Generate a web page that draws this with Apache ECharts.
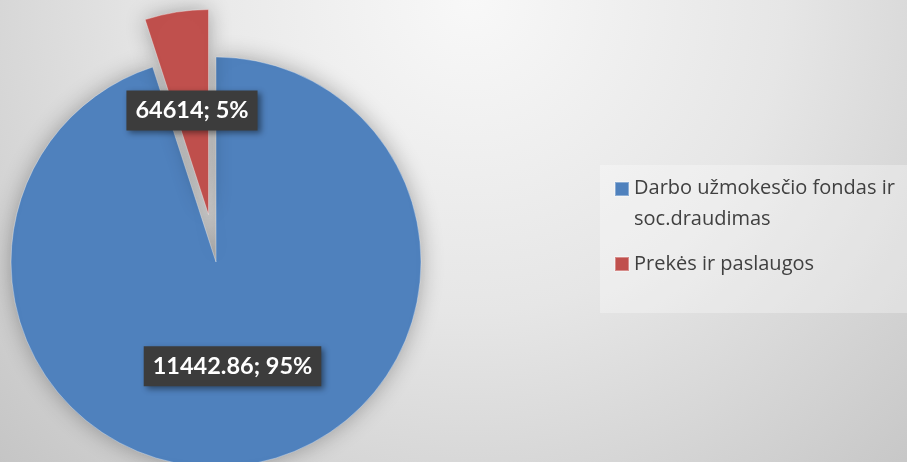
<!DOCTYPE html>
<html>
<head>
<meta charset="utf-8">
<script src="https://cdn.jsdelivr.net/npm/echarts@6/dist/echarts.min.js"></script>
<style>
html,body{margin:0;padding:0;}
#chart{width:907px;height:462px;}
</style>
</head>
<body>
<div id="chart"></div>
<script>
// Data
var categories = ['Darbo užmokesčio fondas ir soc.draudimas', 'Prekės ir paslaugos'];
var shares = [95, 5];                    // slice size (percent)
var labelValues = ['11442.86', '64614']; // values as labeled in the source
var colors = ['#4F81BD', '#C0504D'];

var chart = echarts.init(document.getElementById('chart'), null, {renderer: 'canvas'});

var seriesData = categories.map(function (c, i) {
  return {
    name: c,
    value: shares[i],
    selected: i === 1,
    itemStyle: {color: colors[i]}
  };
});

// legend icons: square aligned with first text line
var iconTop = 'path://M0,0h14v14h-14z M14,44';
var iconMid = 'path://M0,15h14v14h-14z M0,0 M14,44';

var option = {
  backgroundColor: {
    type: 'radial', x: 0.52, y: 0.0, r: 1.5,
    colorStops: [
      {offset: 0, color: '#f8f8f8'},
      {offset: 0.45, color: '#e6e6e6'},
      {offset: 1, color: '#c2c2c2'}
    ]
  },
  animation: false,
  legend: {
    orient: 'vertical',
    left: 600,
    top: 165,
    itemWidth: 14,
    itemHeight: 44,
    itemGap: 6,
    padding: [8, 60, 26, 14],
    backgroundColor: 'rgba(255,255,255,0.3)',
    selectedMode: false,
    data: [
      {name: categories[0], icon: iconTop},
      {name: categories[1], icon: iconMid}
    ],
    formatter: function (name) {
      return name.replace(' soc.', '\nsoc.');
    },
    textStyle: {
      fontFamily: 'Open Sans',
      fontSize: 20,
      color: '#404040',
      lineHeight: 31
    }
  },
  series: [{
    type: 'pie',
    center: [216, 262],
    radius: 205,
    startAngle: 90,
    clockwise: true,
    selectedMode: 'single',
    selectedOffset: 48,
    avoidLabelOverlap: false,
    emphasis: {disabled: true},
    itemStyle: {
      borderColor: 'rgba(255,255,255,0.35)',
      borderWidth: 1,
      shadowBlur: 22,
      shadowColor: 'rgba(0,0,0,0.3)'
    },
    label: {
      show: true,
      position: 'inside',
      formatter: function (p) {
        return labelValues[p.dataIndex] + '; ' + shares[p.dataIndex] + '%';
      },
      fontFamily: 'Lato',
      fontWeight: 'bold',
      fontSize: 23.5,
      color: '#ffffff',
      backgroundColor: '#3c3c3c',
      padding: [9, 9, 7, 9],
      shadowBlur: 6,
      shadowOffsetX: 3,
      shadowOffsetY: 3,
      shadowColor: 'rgba(0,0,0,0.45)'
    },
    labelLine: {show: false},
    data: seriesData
  }]
};
chart.setOption(option);
</script>
</body>
</html>
